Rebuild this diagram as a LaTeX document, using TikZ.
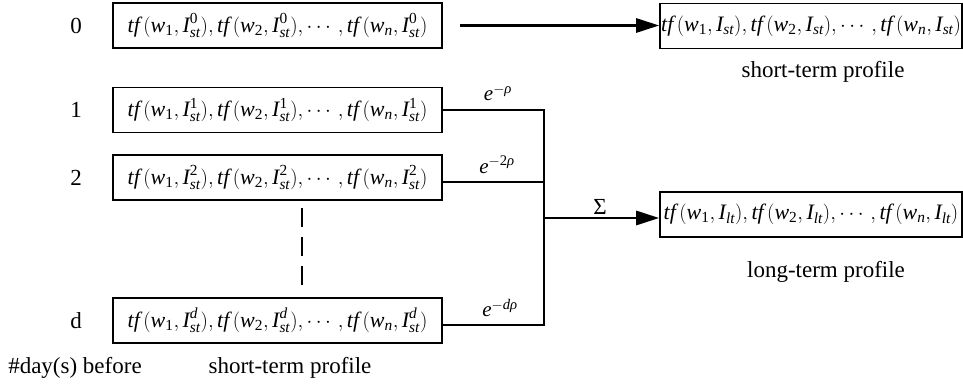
\documentclass[tikz,border=0pt]{standalone}
\usepackage{amsmath}
\usepackage{fontspec}
\setmainfont{Liberation Serif}
\usetikzlibrary{arrows.meta}
\newcommand{\wsub}[1]{\textit{w}_{\textup{#1}}}
\newcommand{\Isub}[2]{\textit{I}^{#1}_{\textit{#2}}}
\newcommand{\tfterm}[2]{\textit{tf}\,(#1,#2)}
\newcommand{\profrow}[1]{$\tfterm{\wsub{1}}{\Isub{#1}{st}},\tfterm{\wsub{2}}{\Isub{#1}{st}},\cdots,\tfterm{\textit{w}_{\textit{n}}}{\Isub{#1}{st}}$}
\newcommand{\profres}[1]{$\tfterm{\wsub{1}}{\textit{I}_{\textit{#1}}},\tfterm{\wsub{2}}{\textit{I}_{\textit{#1}}},\cdots,\tfterm{\textit{w}_{\textit{n}}}{\textit{I}_{\textit{#1}}}$}
\tikzset{
  rowbox/.style={draw, line width=1.6pt, minimum width=329pt, minimum height=45pt, inner sep=0pt, font=\fontsize{22}{26}\selectfont},
  resbox/.style={rowbox, minimum width=302pt},
  conn/.style={line width=2.8pt},
  arr/.style={conn, -{Triangle[length=23pt,width=14pt]}},
  lbl/.style={font=\fontsize{23}{28}\selectfont, inner sep=0pt},
  wlbl/.style={font=\fontsize{21}{25}\selectfont, inner sep=0pt},
  dashline/.style={line width=2.4pt, dash pattern=on 19pt off 10pt}
}
\begin{document}
\begin{tikzpicture}[x=1pt,y=-1pt]
\useasboundingbox (0,0) rectangle (963,387);
% left boxes
\node[rowbox] (b0) at (277.5,25.5) {\profrow{\textup{0}}};
\node[rowbox] (b1) at (277.5,110) {\profrow{\textup{1}}};
\node[rowbox] (b2) at (277.5,177.5) {\profrow{\textup{2}}};
\node[rowbox] (bd) at (277.5,320.5) {\profrow{\textit{d}}};
% right boxes
\node[resbox] (st) at (811,26) {\profres{st}};
\node[resbox] (lt) at (811,214.5) {\profres{lt}};
% day labels
\node[lbl] (l0) at (76,25.5) {0};
\node[lbl] (l1) at (76,110) {1};
\node[lbl] (l2) at (76,177.5) {2};
\node[lbl] (ld) at (76,320.5) {d};
\node[lbl] (ldays) at (75,368) {\#day(s) before};
\node[lbl] (lstb) at (290,368) {short-term profile};
\node[lbl] (lstr) at (823,72) {short-term profile};
\node[lbl] (lltr) at (826,272) {long-term profile};
% arrow row 0
\coordinate (a0) at (460,25.5);
\draw[arr] (a0) -- (a0 -| st.west);
% bus
\coordinate (bus) at (544,110);
\coordinate (bdl) at ([yshift=-4.5pt]bd.east);
\coordinate (b2l) at ([yshift=-4.5pt]b2.east);
\draw[conn] (b1.east) -- (b1.east -| bus) -- (bdl -| bus) -- (bdl);
\draw[conn] (b2l) -- (b2l -| bus);
\coordinate (sumst) at (544,218);
\draw[arr] (sumst) -- (sumst -| lt.west);
% weights
\node[wlbl] (w1) at (498,93) {$\textit{e}^{-\textit{ρ}}$};
\node[wlbl] (w2) at (497,165) {$\textit{e}^{-\textup{2}\textit{ρ}}$};
\node[wlbl] (wd) at (500,308) {$\textit{e}^{-\textit{dρ}}$};
\node[lbl] (sig) at (600,207) {Σ};
% dashed
\coordinate (dtop) at (302,208);
\coordinate (dbot) at (302,285);
\draw[dashline] (dtop) -- (dbot);
\end{tikzpicture}
\end{document}
